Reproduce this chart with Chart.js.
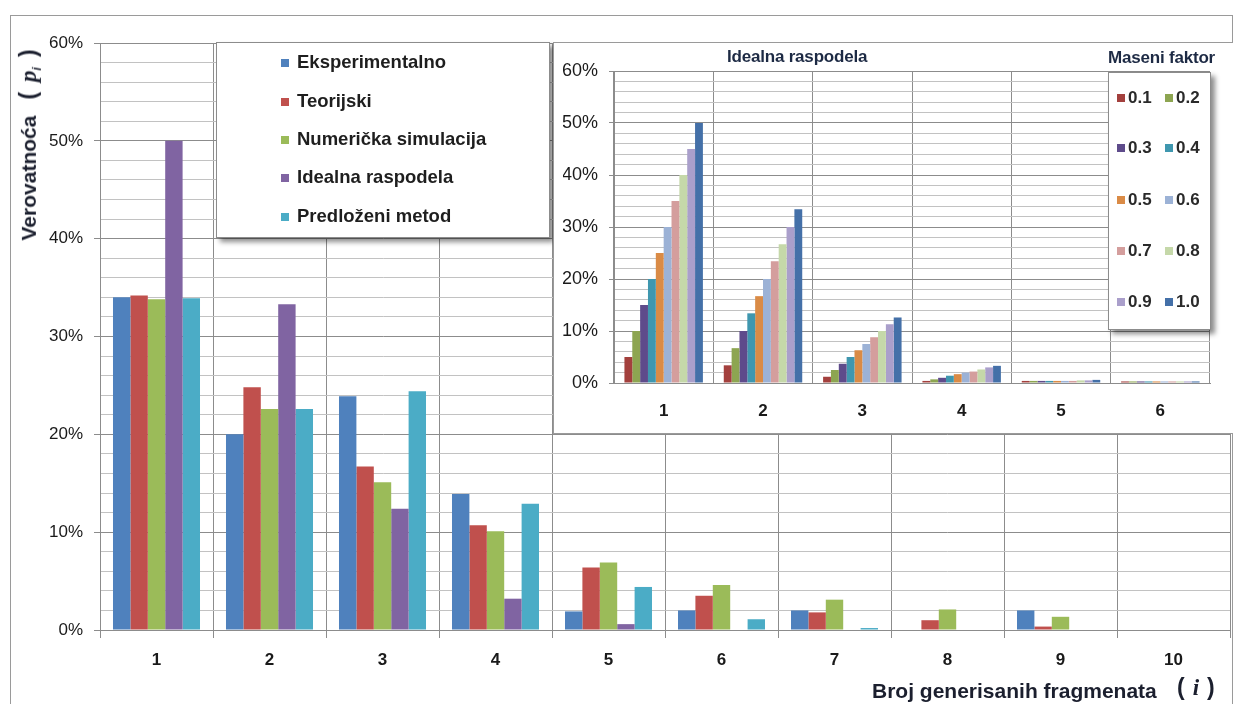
<!DOCTYPE html>
<html>
<head>
<meta charset="utf-8">
<script src="https://cdn.jsdelivr.net/npm/chart.js@4.4.1/dist/chart.umd.min.js"></script>
<style>
  html, body { margin:0; padding:0; background:#fff; }
  body { width:1242px; height:704px; position:relative; overflow:hidden; font-family:"Liberation Sans", Arial, sans-serif; }
  #frame { position:absolute; left:10px; top:15px; width:1223px; height:700px; border:1px solid #9a9a9a; box-sizing:border-box; }
  #mainCanvas { position:absolute; left:0; top:0; }
  .legend { position:absolute; background:#fff; border:1px solid #8c8c8c; box-shadow:4px 4px 5px rgba(0,0,0,0.45); }
  .litem { position:absolute; font-weight:bold; color:#1e1e1e; white-space:nowrap; line-height:1; }
  .lmark { position:absolute; width:8px; height:8px; }
  #inset { position:absolute; left:553px; top:42px; width:680px; height:392px; background:#fff; border-left:1px solid #9a9a9a; border-bottom:1px solid #9a9a9a; border-top:1px solid #9a9a9a; box-sizing:border-box; }
  #insetCanvas { position:absolute; left:553px; top:42px; }
  .ttl { position:absolute; font-family:"Liberation Sans", Arial, sans-serif; font-weight:bold; color:#1d2a44; white-space:nowrap; line-height:1; letter-spacing:-0.2px; }
  #ytitle { position:absolute; left:30px; top:145px; transform:translate(-50%,-50%) rotate(-90deg); font-weight:bold; font-size:21px; color:#1b1f2e; white-space:nowrap; line-height:1; }
  #xtitle { position:absolute; left:872px; top:680px; font-weight:bold; font-size:21px; color:#1b1f2e; white-space:nowrap; line-height:1; }
  #xunit { position:absolute; left:1177px; top:676px; font-weight:bold; font-size:23px; color:#1b1f2e; white-space:nowrap; line-height:1; }
</style>
</head>
<body>
<div id="frame"></div>
<canvas id="mainCanvas" width="1242" height="704"></canvas>
<div id="mainLegend" class="legend" style="left:216px; top:42px; width:332px; height:194px;"></div>
<div id="inset"></div>
<canvas id="insetCanvas" width="680" height="391"></canvas>
<div class="ttl" style="left:727px; top:48px; font-size:17px;">Idealna raspodela</div>
<div class="ttl" style="left:1108px; top:49px; font-size:17px;">Maseni faktor</div>
<div id="insetLegend" class="legend" style="left:1108px; top:72px; width:101px; height:256px;"></div>
<div id="ytitle">Verovatnoća<span style="display:inline-block;width:16px;"></span><span style="font-size:23px;">(</span><span style="display:inline-block;width:10px;"></span><i style="font-family:'Liberation Serif',serif;font-size:23px;">p</i><sub style="font-size:12px;"><i>i</i></sub><span style="display:inline-block;width:10px;"></span><span style="font-size:23px;">)</span></div>
<div id="xtitle">Broj generisanih fragmenata</div>
<div id="xunit">(<span style="display:inline-block;width:8px;"></span><i style="font-family:'Liberation Serif',serif;">i</i><span style="display:inline-block;width:8px;"></span>)</div>
<script>
// ---------------- main chart data ----------------
const categories = ['1','2','3','4','5','6','7','8','9','10'];
const seriesNames = ['Eksperimentalno','Teorijski','Numerička simulacija','Idealna raspodela','Predloženi metod'];
const experimentalno = [34.0, 20.0, 23.9, 13.9, 1.9, 2.0, 2.0, 0.0, 2.0, 0.0];
const teorijski      = [34.2, 24.8, 16.7, 10.7, 6.4, 3.5, 1.8, 1.0, 0.35, 0.0];
const numericka      = [33.8, 22.6, 15.1, 10.1, 6.9, 4.6, 3.1, 2.1, 1.35, 0.0];
const idealna        = [50.0, 33.3, 12.4, 3.2, 0.6, 0.0, 0.0, 0.0, 0.0, 0.0];
const predlozeni     = [33.9, 22.6, 24.4, 12.9, 4.4, 1.1, 0.2, 0.0, 0.0, 0.0];
const mainColors = ['#4F81BD','#C0504D','#9BBB59','#8064A2','#4BACC6'];
const yTicksMain = [0,10,20,30,40,50,60];

// ---------------- inset chart data ----------------
const insetCategories = ['1','2','3','4','5','6'];
const factorNames = ['0.1','0.2','0.3','0.4','0.5','0.6','0.7','0.8','0.9','1.0'];
const f01 = [5.0, 3.4, 1.2, 0.4, 0.4, 0.3];
const f02 = [10.0, 6.7, 2.5, 0.7, 0.4, 0.3];
const f03 = [15.0, 10.0, 3.7, 1.0, 0.4, 0.3];
const f04 = [20.0, 13.4, 5.0, 1.4, 0.4, 0.3];
const f05 = [25.0, 16.7, 6.3, 1.7, 0.4, 0.3];
const f06 = [30.0, 20.0, 7.5, 2.0, 0.4, 0.3];
const f07 = [35.0, 23.4, 8.8, 2.2, 0.4, 0.3];
const f08 = [40.0, 26.7, 10.0, 2.6, 0.5, 0.3];
const f09 = [45.0, 30.0, 11.3, 3.0, 0.5, 0.3];
const f10 = [50.0, 33.4, 12.6, 3.3, 0.6, 0.3];
const insetColors = ['#A3403D','#8DA551','#5E4B8B','#3F97AF','#DA8B46','#9CB2D6','#D49E9D','#C5D8A9','#AA9FCB','#4470A8'];

const mainSeries = [experimentalno, teorijski, numericka, idealna, predlozeni];
const insetSeries = [f01,f02,f03,f04,f05,f06,f07,f08,f09,f10];

const majorGrid = '#8c8c8c';
const minorGrid = '#c2c2c2';

function gridColor(ctx){ return (ctx.tick && Math.round(ctx.tick.value) % 10 === 0) ? majorGrid : minorGrid; }
function tickMarkColor(ctx){ return (ctx.tick && Math.round(ctx.tick.value) % 10 === 0) ? majorGrid : 'rgba(0,0,0,0)'; }

// ---------------- main chart ----------------
new Chart(document.getElementById('mainCanvas').getContext('2d'), {
  type: 'bar',
  data: {
    labels: categories,
    datasets: seriesNames.map((n,i)=>({ label:n, data:mainSeries[i], backgroundColor:mainColors[i], borderWidth:0 }))
  },
  options: {
    responsive:false, animation:false,
    layout:{ padding:{ left:40, top:43, right:12, bottom:0 } },
    plugins:{ legend:{display:false}, tooltip:{enabled:false}, title:{display:false} },
    datasets:{ bar:{ categoryPercentage:0.77, barPercentage:1.0 } },
    scales:{
      x:{
        grid:{ color:majorGrid, lineWidth:1, offset:true, tickLength:8, tickColor:majorGrid },
        border:{ color:majorGrid },
        ticks:{ color:'#1a1a1a', font:{ family:'Liberation Sans', size:17, weight:'bold' }, padding:12 },
        afterFit(s){ s.height = 74; }
      },
      y:{
        min:0, max:60,
        grid:{ color:gridColor, tickColor:tickMarkColor, lineWidth:1, tickLength:6 },
        border:{ color:majorGrid },
        ticks:{ stepSize:2, autoSkip:false, color:'#1a1a1a', font:{ family:'Liberation Sans', size:17 }, padding:11,
          callback:(v)=> yTicksMain.includes(Math.round(v)) ? Math.round(v)+'%' : '' },
        afterFit(s){ s.width = 60; }
      }
    }
  }
});

// ---------------- inset chart ----------------
new Chart(document.getElementById('insetCanvas').getContext('2d'), {
  type: 'bar',
  data: {
    labels: insetCategories,
    datasets: factorNames.map((n,i)=>({ label:n, data:insetSeries[i], backgroundColor:insetColors[i], borderWidth:0 }))
  },
  options: {
    responsive:false, animation:false,
    layout:{ padding:{ left:10, top:29, right:23, bottom:0 } },
    plugins:{ legend:{display:false}, tooltip:{enabled:false} },
    datasets:{ bar:{ categoryPercentage:0.79, barPercentage:1.0 } },
    scales:{
      x:{
        grid:{ color:majorGrid, lineWidth:1, offset:true, drawTicks:false },
        border:{ color:majorGrid },
        ticks:{ color:'#1a1a1a', font:{ family:'Liberation Sans', size:17, weight:'bold' }, padding:18 },
        afterFit(s){ s.height = 50; }
      },
      y:{
        min:0, max:60,
        grid:{ color:gridColor, tickColor:tickMarkColor, lineWidth:1, tickLength:5 },
        border:{ color:majorGrid },
        ticks:{ stepSize:2, autoSkip:false, color:'#1a1a1a', font:{ family:'Liberation Sans', size:18 }, padding:11,
          callback:(v)=> yTicksMain.includes(Math.round(v)) ? Math.round(v)+'%' : '' },
        afterFit(s){ s.width = 51; }
      }
    }
  }
});

// ---------------- legends (HTML, built from the series names/colours) ----------------
const ml = document.getElementById('mainLegend');
const mainRowY = [20, 59, 97, 135, 174];
seriesNames.forEach((n,i)=>{
  const m = document.createElement('div'); m.className='lmark';
  m.style.left='64px'; m.style.top=(mainRowY[i]-4)+'px'; m.style.background=mainColors[i];
  ml.appendChild(m);
  const t = document.createElement('div'); t.className='litem';
  t.style.left='80px'; t.style.top=(mainRowY[i]-10)+'px'; t.style.fontSize='18.5px'; t.textContent=n;
  ml.appendChild(t);
});
const il = document.getElementById('insetLegend');
const insetRowY = [25, 75, 127, 178, 229];
factorNames.forEach((n,i)=>{
  const row = Math.floor(i/2), col = i%2;
  const x0 = col===0 ? 8 : 56;
  const m = document.createElement('div'); m.className='lmark';
  m.style.left=x0+'px'; m.style.top=(insetRowY[row]-4)+'px'; m.style.width='8px'; m.style.height='8px'; m.style.background=insetColors[i];
  il.appendChild(m);
  const t = document.createElement('div'); t.className='litem';
  t.style.left=(x0+11)+'px'; t.style.top=(insetRowY[row]-9)+'px'; t.style.fontSize='17px'; t.style.color='#2a2a2a'; t.textContent=n;
  il.appendChild(t);
});
</script>
</body>
</html>
